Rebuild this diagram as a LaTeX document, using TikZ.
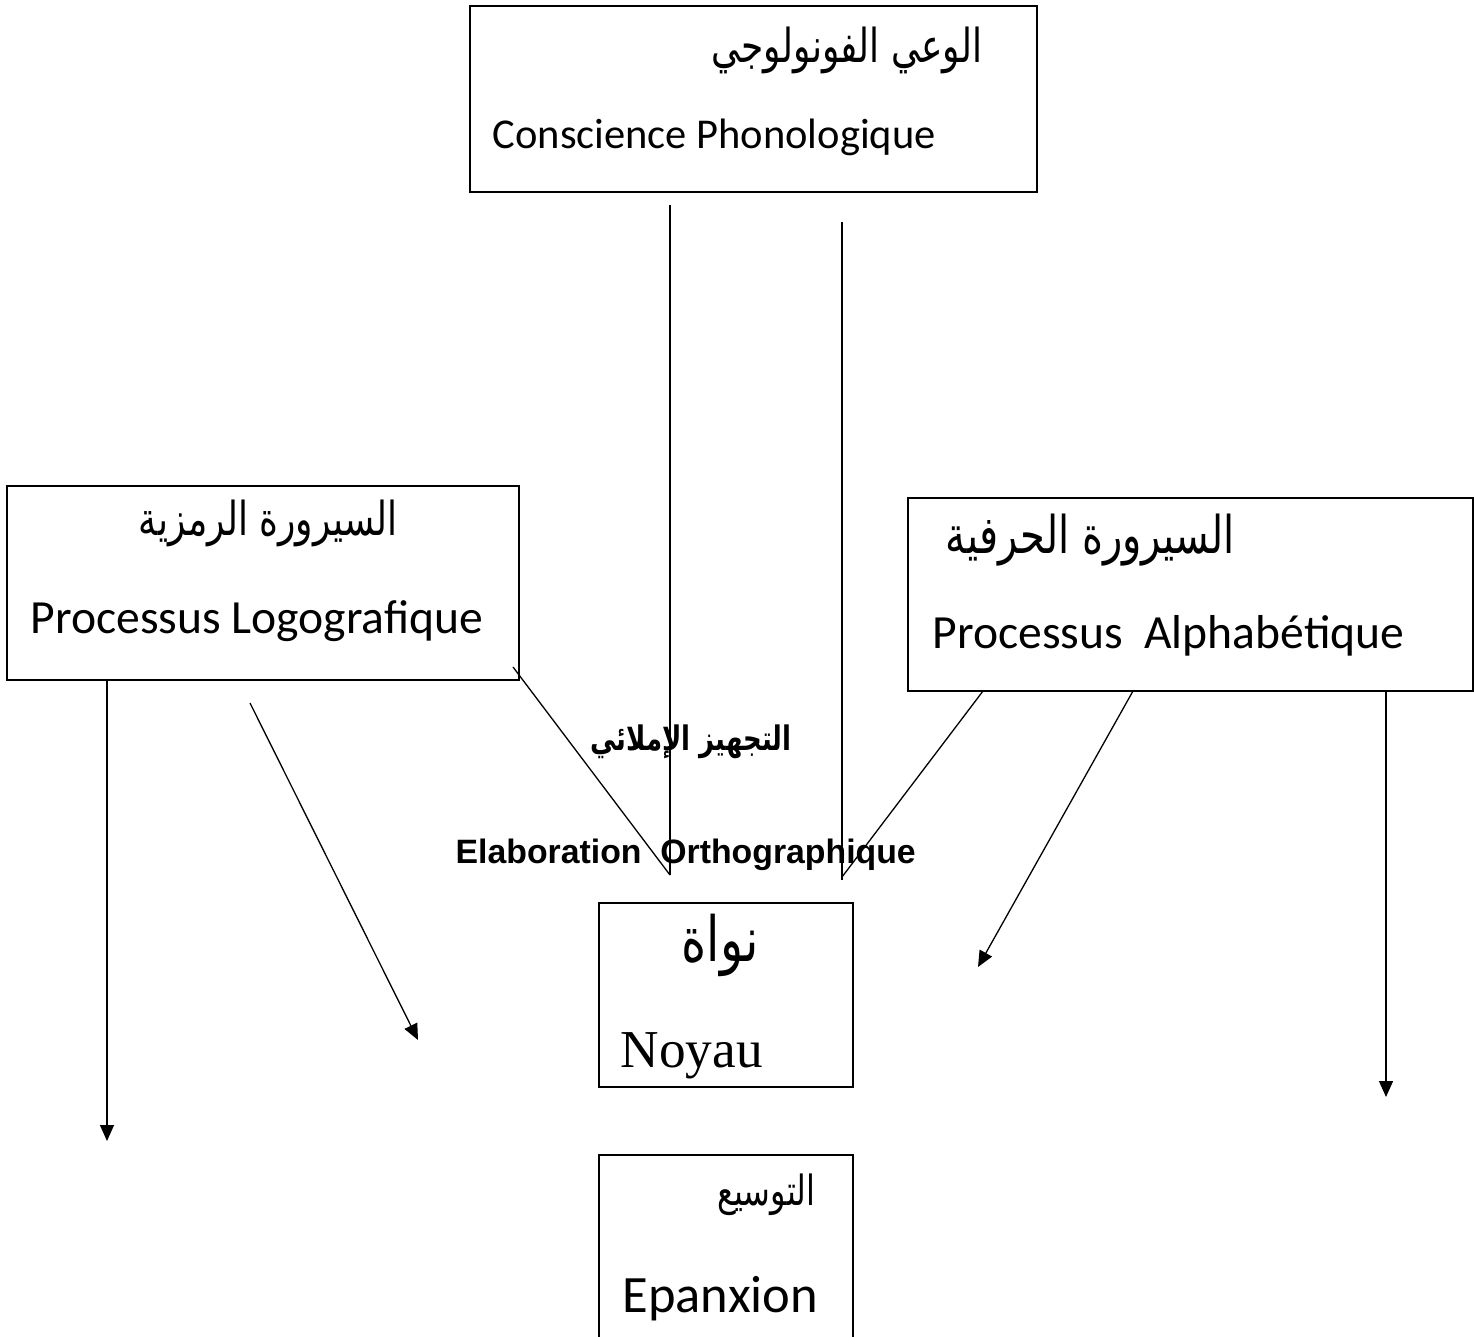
\documentclass[tikz,border=0pt]{standalone}
\usepackage{fontspec}
\usepackage{graphicx}
\setmainfont{Carlito}
\newfontfamily\arabicfont[Script=Arabic]{DejaVu Sans}
\newfontfamily\arialf{Liberation Sans}
\newfontfamily\timesf{Liberation Serif}
\TeXXeTstate=1
\usetikzlibrary{arrows.meta}
\newcommand{\artext}[2]{\scalebox{1}[1.3]{\arabicfont\fontsize{#1}{#1}\selectfont #2}}
\newcommand{\artextb}[2]{\scalebox{1}[1.3]{\arabicfont\bfseries\fontsize{#1}{#1}\selectfont #2}}
\begin{document}
\begin{tikzpicture}[x=1pt,y=-1pt,line width=1.3pt,
  box/.style={draw,line width=1.5pt,inner sep=0pt},
  lbl/.style={inner sep=0pt,anchor=base west},
  artxt/.style={inner sep=0pt},
  arr/.style={-{Triangle[length=16pt,width=14pt]}}]
\useasboundingbox (0,0) rectangle (1474,1336);
% boxes
\node[box,minimum width=567pt,minimum height=186pt] (topbox) at (753.5,99) {};
\node[box,minimum width=512pt,minimum height=194pt] (lbox) at (263,583) {};
\node[box,minimum width=565pt,minimum height=193pt] (rbox) at (1190.5,594.5) {};
\node[box,minimum width=254pt,minimum height=184pt] (nbox) at (726,995) {};
\node[box,minimum width=254pt,minimum height=200pt] (ebox) at (726,1255) {};
% texts
\node[artxt,anchor=east] (toparab) at (983,50) {\artext{36}{\beginR الوعي الفونولوجي\endR}};
\node[lbl] (toplat) at (492,148) {\fontsize{42.5}{48}\selectfont Conscience Phonologique};
\node[artxt] (larab) at (268,523) {\artext{36}{\beginR السيرورة الرمزية\endR}};
\node[lbl] (llat) at (30,633) {\fontsize{47.6}{54}\selectfont Processus Logografique};
\node[artxt,anchor=west] (rarab) at (945,540) {\artext{40}{\beginR السيرورة الحرفية\endR}};
\node[lbl] (rlat) at (932,648) {\fontsize{47.6}{54}\selectfont Processus~~Alphabétique};
\node[artxt] (midarab) at (691,742) {\artextb{26}{\beginR التجهيز الإملائي\endR}};
\node[lbl] (midlat) at (455,863) {\arialf\bfseries\fontsize{33.8}{38}\selectfont Elaboration~~Orthographique};
\node[artxt] (narab) at (720,945) {\artext{48}{\beginR نواة\endR}};
\node[artxt,anchor=east] (earab) at (816,1195) {\artext{32}{\beginR التوسيع\endR}};
\node[lbl] (nlat) at (620,1067) {\timesf\fontsize{53.3}{60}\selectfont Noyau};
\node[lbl] (elat) at (622,1312) {\fontsize{52.5}{58}\selectfont Epanxion};
% free ends
\coordinate (v1a) at (670,205);
\coordinate (v1b) at (670,875);
\coordinate (v2a) at (842,222);
\coordinate (v2b) at (842,880);
\coordinate (d1a) at (513,667);
\coordinate (d2a) at (983,691);
\coordinate (d2b) at (842,877);
\coordinate (a1s) at (250,703);
\coordinate (a1e) at (418,1040);
\coordinate (a2s) at (1133,691);
\coordinate (a2e) at (978,967);
\coordinate (a3e) at (107,1141);
\coordinate (a4e) at (1386,1097);
% connectors
\draw (v1a) -- (v1b);
\draw (v2a) -- (v2b);
\draw (d1a) -- (v1b);
\draw (d2a) -- (d2b);
\draw[arr] (a1s) -- (a1e);
\draw[arr] (a2s) -- (a2e);
\draw[arr] (lbox.south -| a3e) -- (a3e);
\draw[arr] (rbox.south -| a4e) -- (a4e);
\end{tikzpicture}
\end{document}
